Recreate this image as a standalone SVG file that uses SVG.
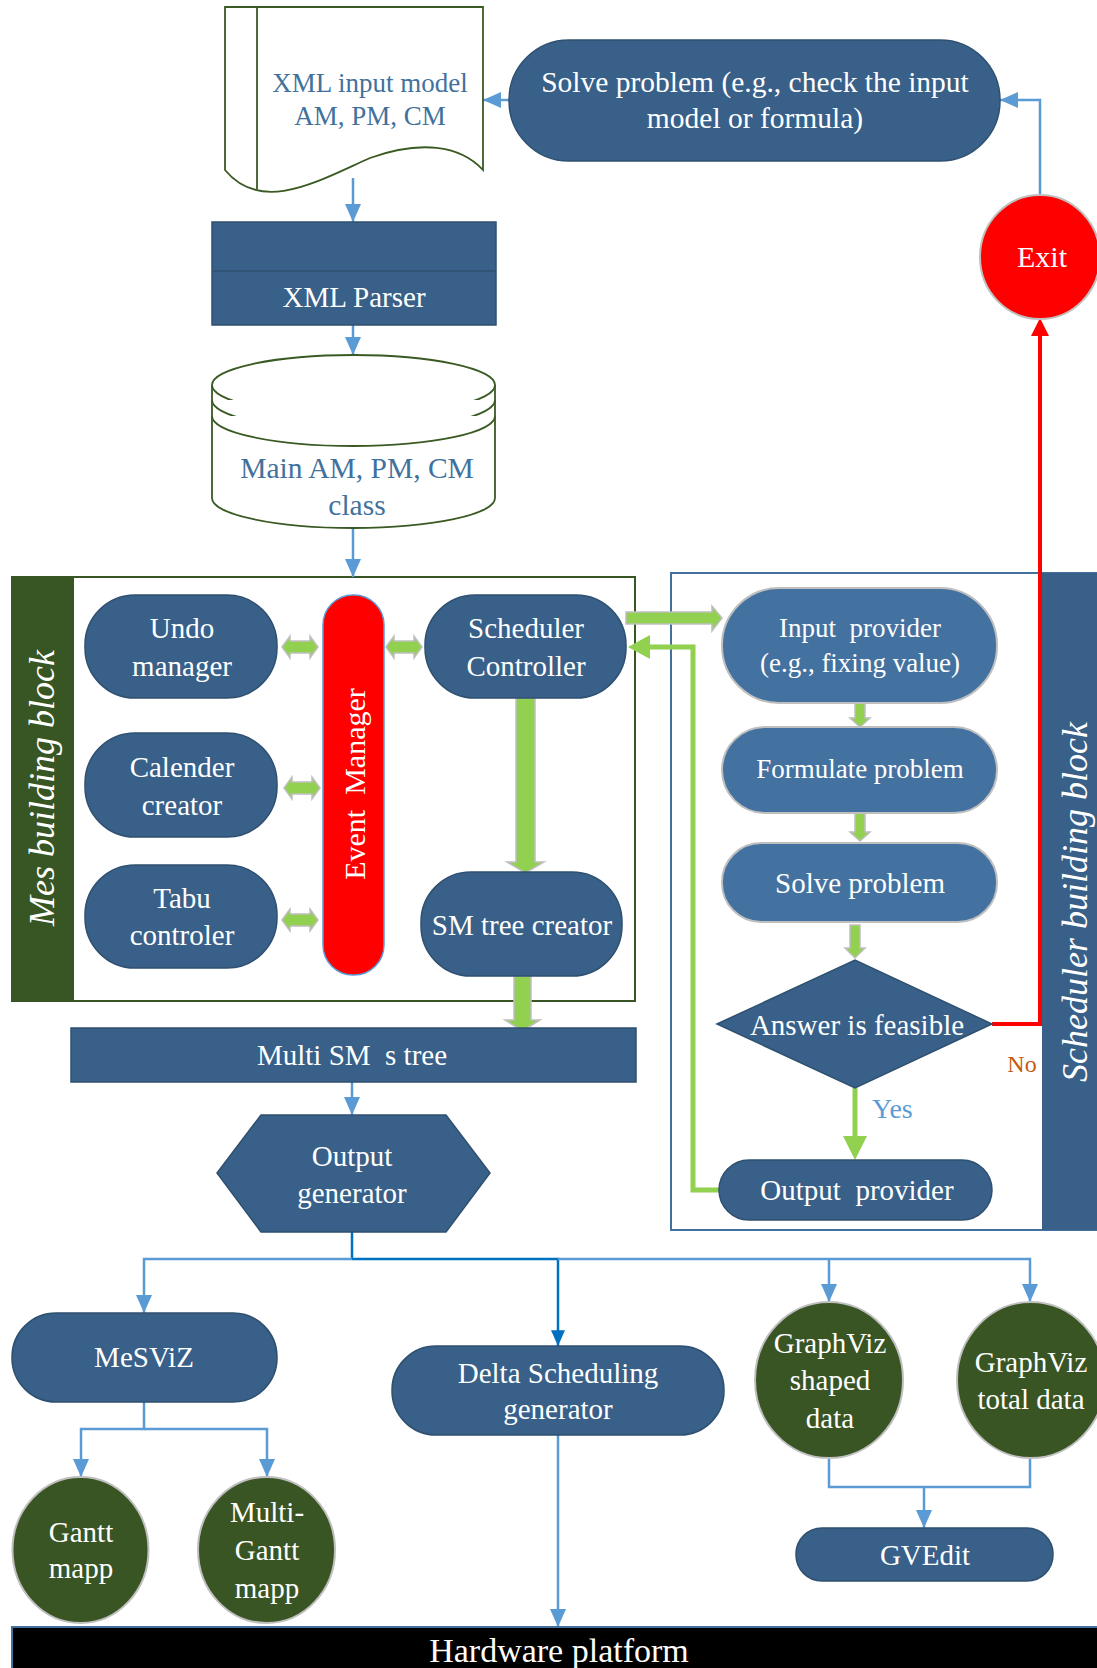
<svg xmlns="http://www.w3.org/2000/svg" width="1097" height="1668" viewBox="0 0 1097 1668">
<style>
text{font-family:"Liberation Serif","Times New Roman",serif;text-anchor:middle}
.w{fill:#ffffff;font-size:29px}
.b{fill:#41719C}
.node{fill:#386088;stroke:#2F5070;stroke-width:1.5}
.lnode{fill:#4472A0;stroke:#BFBFBF;stroke-width:2}
.gnode{fill:#3A5524;stroke:#BFBFBF;stroke-width:2}
.out{fill:#ffffff;stroke:#3A5A23;stroke-width:1.8}
.c{fill:none;stroke:#5B9BD5;stroke-width:2.5}
.cd{fill:none;stroke:#0070C0;stroke-width:2.5}
.ga{fill:#92D050;stroke:#BFBFBF;stroke-width:1.5}
.gl{fill:none;stroke:#92D050;stroke-width:5}
</style>
<defs>
<marker id="ah" viewBox="0 0 18 16" refX="18" refY="8" markerWidth="18" markerHeight="16" markerUnits="userSpaceOnUse" orient="auto"><path d="M0,0 L18,8 L0,16 Z" fill="#5B9BD5"/></marker>
<marker id="ahd" viewBox="0 0 18 16" refX="18" refY="8" markerWidth="16" markerHeight="14" markerUnits="userSpaceOnUse" orient="auto"><path d="M0,0 L18,8 L0,16 Z" fill="#0070C0"/></marker>
</defs>
<rect width="1097" height="1668" fill="#ffffff"/>

<!-- containers -->
<g id="mes-block">
<rect x="12" y="577" width="623" height="424" fill="#ffffff" stroke="#375623" stroke-width="2"/>
<rect x="12" y="577" width="62" height="424" fill="#375623"/>
<text transform="translate(54,788) rotate(-90)" style="font-size:36px;font-style:italic;fill:#fff">Mes building block</text>
</g>
<g id="scheduler-block">
<rect x="671" y="573" width="430" height="657" fill="#ffffff" stroke="#41719C" stroke-width="2"/>
<rect x="1042" y="573" width="60" height="657" fill="#386088"/>
<text transform="translate(1087,902) rotate(-90)" style="font-size:36px;font-style:italic;fill:#fff">Scheduler building block</text>
</g>

<g id="connectors">
<path class="c" d="M353,178 L353,222" marker-end="url(#ah)"/>
<path class="c" d="M353,325 L353,355" marker-end="url(#ah)"/>
<path class="c" d="M353,528 L353,577" marker-end="url(#ah)"/>
<path class="c" d="M1040,195 L1040,100 L1000,100" marker-end="url(#ah)"/>
<path class="c" d="M509,100 L483,100" marker-end="url(#ah)"/>
<path class="c" d="M352,1082 L352,1115" marker-end="url(#ah)"/>
<path class="cd" d="M352,1232 L352,1259"/>
<path class="c" d="M352,1259 L144,1259 L144,1313" marker-end="url(#ah)"/>
<path class="cd" d="M352,1259 L558,1259 L558,1346" marker-end="url(#ahd)"/>
<path class="c" d="M558,1259 L1030,1259 L1030,1302" marker-end="url(#ah)"/>
<path class="c" d="M829,1259 L829,1302" marker-end="url(#ah)"/>
<path class="c" d="M144,1402 L144,1429 L81,1429 L81,1477" marker-end="url(#ah)"/>
<path class="c" d="M144,1429 L267,1429 L267,1477" marker-end="url(#ah)"/>
<path class="c" d="M558,1435 L558,1627" marker-end="url(#ah)"/>
<path class="c" d="M829,1459 L829,1487 L1030,1487 L1030,1459"/>
<path class="c" d="M924,1487 L924,1528" marker-end="url(#ah)"/>
<!-- green double arrows -->
<path class="ga" d="M282,647 L290,636 L290,641 L310,641 L310,636 L318,647 L310,658 L310,653 L290,653 L290,658 Z"/>
<path class="ga" d="M386,647 L394,636 L394,641 L414,641 L414,636 L422,647 L414,658 L414,653 L394,653 L394,658 Z"/>
<path class="ga" d="M284,788 L292,777 L292,782 L312,782 L312,777 L320,788 L312,799 L312,794 L292,794 L292,799 Z"/>
<path class="ga" d="M282,920 L290,909 L290,914 L310,914 L310,909 L318,920 L310,931 L310,926 L290,926 L290,931 Z"/>
<!-- green block arrows -->
<path class="ga" d="M516,698 L535,698 L535,862 L544,862 L525.5,873 L507,862 L516,862 Z"/>
<path class="ga" d="M514,976 L531,976 L531,1020 L540,1020 L522.5,1031 L505,1020 L514,1020 Z"/>
<path class="ga" d="M626,612 L712,612 L712,606 L722,618 L712,631 L712,624 L626,624 Z"/>
<path class="ga" d="M855,703 L865,703 L865,718 L870,718 L860,727 L850,718 L855,718 Z"/>
<path class="ga" d="M855,813 L865,813 L865,832 L870,832 L860,841 L850,832 L855,832 Z"/>
<path class="ga" d="M850,925 L860,925 L860,948 L865,948 L855,958 L845,948 L850,948 Z"/>
<!-- feedback green -->
<path class="gl" d="M719,1190 L693,1190 L693,647 L648,647"/>
<polygon points="628,647 650,635 650,659" fill="#92D050"/>
<!-- yes -->
<path class="gl" d="M855,1088 L855,1138"/>
<polygon points="843,1136 867,1136 855,1160" fill="#92D050"/>
<!-- red no -->
<path d="M992,1024 L1040,1024 L1040,334" fill="none" stroke="#FF0000" stroke-width="4"/>
<polygon points="1031,336 1049,336 1040,318" fill="#FF0000"/>
</g>

<g id="xml-input">
<path class="out" d="M225,7 L483,7 L483,170 C460,145 420,140 370,158 C320,180 262,215 225,170 Z"/>
<path class="out" d="M257,7 L257,189"/>
<text x="370" y="92" class="b" style="font-size:27px">XML input model</text>
<text x="370" y="125" class="b" style="font-size:27px">AM, PM, CM</text>
</g>
<g id="solve-top">
<rect class="node" x="509" y="40" width="491" height="121" rx="60"/>
<text x="755" y="92" class="w" style="font-size:29.5px">Solve problem (e.g., check the input</text>
<text x="755" y="128" class="w" style="font-size:29.5px">model or formula)</text>
</g>
<g id="exit">
<ellipse cx="1040" cy="257" rx="60" ry="62" fill="#FF0000" stroke="#BFBFBF" stroke-width="2"/>
<text x="1042" y="267" class="w" style="font-size:30px">Exit</text>
</g>
<g id="xml-parser">
<rect class="node" x="212" y="222" width="284" height="103"/>
<line x1="212" y1="271" x2="496" y2="271" stroke="#2F5070" stroke-width="1.5"/>
<text x="354" y="307" class="w">XML Parser</text>
</g>
<g id="main-class">
<path class="out" d="M212,385 L212,498 A141.5,30 0 0 0 495,498 L495,385"/>
<ellipse class="out" cx="353.5" cy="385" rx="141.5" ry="30"/>
<path class="out" fill="none" d="M212,400 A141.5,30 0 0 0 495,400"/>
<path class="out" fill="none" d="M212,416 A141.5,30 0 0 0 495,416"/>
<text x="357" y="478" class="b" style="font-size:29.5px">Main AM, PM, CM</text>
<text x="357" y="515" class="b" style="font-size:29.5px">class</text>
</g>
<g id="undo">
<rect class="node" x="85" y="595" width="192" height="103" rx="50"/>
<text x="182" y="638" class="w">Undo</text>
<text x="182" y="676" class="w">manager</text>
</g>
<g id="calender">
<rect class="node" x="85" y="733" width="192" height="104" rx="50"/>
<text x="182" y="777" class="w">Calender</text>
<text x="182" y="815" class="w">creator</text>
</g>
<g id="tabu">
<rect class="node" x="85" y="865" width="192" height="103" rx="50"/>
<text x="182" y="908" class="w">Tabu</text>
<text x="182" y="945" class="w">controler</text>
</g>
<g id="event-manager">
<rect x="323" y="595" width="61" height="380" rx="30" fill="#FF0000" stroke="#5B9BD5" stroke-width="1.5"/>
<text transform="translate(365,784) rotate(-90)" class="w" xml:space="preserve" style="font-size:30px">Event  Manager</text>
</g>
<g id="scheduler-controller">
<rect class="node" x="425" y="595" width="201" height="103" rx="50"/>
<text x="526" y="638" class="w">Scheduler</text>
<text x="526" y="676" class="w">Controller</text>
</g>
<g id="sm-tree-creator">
<rect class="node" x="421" y="872" width="201" height="104" rx="50"/>
<text x="522" y="935" class="w">SM tree creator</text>
</g>
<g id="input-provider">
<rect class="lnode" x="722" y="588" width="275" height="115" rx="57"/>
<text x="860" y="637" class="w" xml:space="preserve" style="font-size:27px">Input  provider</text>
<text x="860" y="672" class="w" style="font-size:27px">(e.g., fixing value)</text>
</g>
<g id="formulate">
<rect class="lnode" x="722" y="727" width="275" height="86" rx="43"/>
<text x="860" y="778" class="w" style="font-size:27px">Formulate problem</text>
</g>
<g id="solve-inner">
<rect class="lnode" x="722" y="843" width="275" height="79" rx="39"/>
<text x="860" y="893" class="w">Solve problem</text>
</g>
<g id="answer">
<polygon class="node" points="717,1024 855,960 992,1024 855,1088"/>
<text x="857" y="1035" class="w">Answer is feasible</text>
<text x="1022" y="1072" style="font-size:24px;fill:#C55A11">No</text>
<text x="872" y="1118" style="font-size:28px;fill:#5B9BD5;text-anchor:start">Yes</text>
</g>
<g id="output-provider">
<rect class="node" x="719" y="1160" width="273" height="60" rx="30"/>
<text x="857" y="1200" class="w" xml:space="preserve">Output  provider</text>
</g>
<g id="multi-sm-tree">
<rect class="node" x="71" y="1028" width="565" height="54"/>
<text x="352" y="1065" class="w" xml:space="preserve">Multi SM  s tree</text>
</g>
<g id="output-generator">
<polygon class="node" points="261,1115 446,1115 490,1173 446,1232 261,1232 217,1173"/>
<text x="352" y="1166" class="w">Output</text>
<text x="352" y="1203" class="w">generator</text>
</g>
<g id="mesviz">
<rect class="node" x="12" y="1313" width="265" height="89" rx="44"/>
<text x="144" y="1367" class="w">MeSViZ</text>
</g>
<g id="gantt">
<ellipse class="gnode" cx="80.5" cy="1550" rx="68" ry="73"/>
<text x="81" y="1542" class="w">Gantt</text>
<text x="81" y="1578" class="w">mapp</text>
</g>
<g id="multi-gantt">
<ellipse class="gnode" cx="266.5" cy="1550" rx="68.5" ry="73"/>
<text x="267" y="1522" class="w">Multi-</text>
<text x="267" y="1560" class="w">Gantt</text>
<text x="267" y="1598" class="w">mapp</text>
</g>
<g id="delta">
<rect class="node" x="392" y="1346" width="332" height="89" rx="44"/>
<text x="558" y="1383" class="w">Delta Scheduling</text>
<text x="558" y="1419" class="w">generator</text>
</g>
<g id="graphviz-shaped">
<ellipse class="gnode" cx="829" cy="1380" rx="74" ry="78"/>
<text x="830" y="1353" class="w">GraphViz</text>
<text x="830" y="1390" class="w">shaped</text>
<text x="830" y="1428" class="w">data</text>
</g>
<g id="graphviz-total">
<ellipse class="gnode" cx="1031" cy="1380" rx="74" ry="78"/>
<text x="1031" y="1372" class="w">GraphViz</text>
<text x="1031" y="1409" class="w">total data</text>
</g>
<g id="gvedit">
<rect class="node" x="796" y="1528" width="257" height="53" rx="26"/>
<text x="925" y="1565" class="w">GVEdit</text>
</g>
<g id="hardware">
<rect x="12" y="1627" width="1090" height="45" fill="#000000" stroke="#41719C" stroke-width="2"/>
<text x="559" y="1662" style="font-size:34px;fill:#fff">Hardware platform</text>
</g>
</svg>
